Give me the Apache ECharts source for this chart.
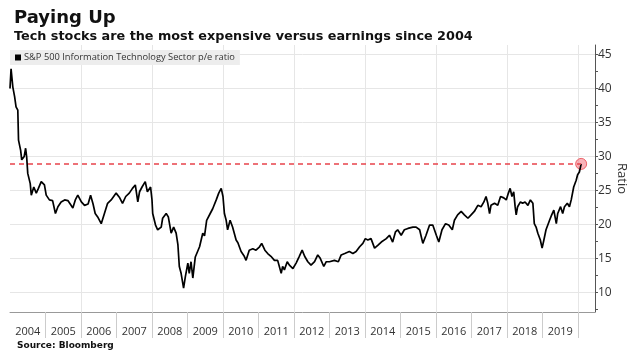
<!DOCTYPE html>
<html><head><meta charset="utf-8">
<script src="https://cdn.jsdelivr.net/npm/echarts@6/dist/echarts.min.js"></script>
<style>html,body{margin:0;padding:0;background:#fff}#c{width:641px;height:361px}</style>
</head><body><div id="c"></div>
<script>
const years = [
2004.00,2004.03,2004.08,2004.13,2004.17,2004.22,2004.24,2004.30,2004.33,2004.40,2004.44,2004.47,2004.50,2004.57,2004.60,2004.67,2004.74,2004.80,2004.88,2004.97,
2005.02,2005.11,2005.20,2005.28,2005.35,2005.44,2005.54,2005.63,2005.72,2005.77,2005.84,2005.91,
2006.01,2006.10,2006.20,2006.27,2006.34,2006.40,2006.47,2006.57,2006.66,2006.75,2006.85,2006.99,
2007.08,2007.17,2007.26,2007.36,2007.45,2007.53,2007.60,2007.65,2007.72,2007.81,2007.87,2007.92,2007.96,
2008.00,2008.02,2008.10,2008.16,2008.26,2008.30,2008.40,2008.46,2008.54,2008.61,2008.68,2008.73,2008.77,2008.82,2008.89,2008.94,
2009.01,2009.05,2009.10,2009.15,2009.22,2009.34,2009.43,2009.48,2009.54,2009.64,2009.71,2009.81,2009.88,2009.95,
2010.00,2010.04,2010.09,2010.13,2010.20,2010.27,2010.37,2010.42,2010.51,2010.60,2010.65,2010.74,2010.84,2010.93,
2011.03,2011.09,2011.18,2011.26,2011.35,2011.45,2011.54,2011.64,2011.68,2011.73,2011.81,2011.87,2011.97,
2012.06,2012.15,2012.23,2012.30,2012.39,2012.48,2012.58,2012.67,2012.74,2012.84,2012.91,
2013.00,2013.14,2013.25,2013.33,2013.43,2013.56,2013.66,2013.75,2013.85,2013.94,
2014.01,2014.08,2014.17,2014.27,2014.36,2014.46,2014.60,2014.69,2014.78,2014.86,2014.92,
2015.02,2015.11,2015.21,2015.35,2015.44,2015.54,2015.63,2015.72,2015.82,2015.91,
2016.01,2016.08,2016.17,2016.27,2016.36,2016.46,2016.52,2016.61,2016.71,2016.80,2016.90,2016.99,
2017.08,2017.18,2017.27,2017.35,2017.41,2017.46,2017.51,2017.55,2017.65,2017.74,2017.82,2017.91,2017.98,
2018.04,2018.09,2018.14,2018.19,2018.23,2018.26,2018.30,2018.38,2018.44,2018.51,2018.59,2018.66,2018.73,2018.77,2018.82,2018.87,2018.94,2018.99,
2019.04,2019.10,2019.20,2019.26,2019.32,2019.39,2019.43,2019.51,2019.57,2019.62,2019.70,2019.76,2019.81,2019.88,2019.95,2019.99,
2020.04,2020.09
];
const peRatio = [
40.0,42.9,40.2,38.8,37.3,36.8,32.4,30.9,29.5,30.0,31.2,29.9,27.5,26.0,24.3,25.5,24.6,25.3,26.3,25.8,
24.3,23.6,23.5,21.6,22.6,23.3,23.6,23.5,22.8,22.4,23.6,24.3,
23.3,22.8,23.0,24.3,23.0,21.6,21.1,20.1,21.6,23.1,23.6,24.6,
24.0,23.1,24.1,24.6,25.3,25.8,23.3,24.8,25.5,26.3,24.8,25.0,25.5,
23.6,21.6,19.9,19.2,19.6,20.9,21.6,21.1,18.7,19.6,18.7,17.0,13.8,12.8,10.6,12.3,
14.3,12.8,14.5,12.1,15.2,16.7,18.7,18.3,20.6,21.6,22.3,23.6,24.6,25.3,
24.1,21.6,20.6,19.2,20.6,19.6,17.7,17.3,16.0,15.3,14.7,16.2,16.4,16.2,
16.7,17.2,16.2,15.7,15.3,14.7,14.7,12.8,13.8,13.3,14.5,14.0,13.5,
14.3,15.3,16.2,15.3,14.5,14.0,14.5,15.5,15.0,13.8,14.5,
14.5,14.7,14.5,15.5,15.7,16.0,15.7,16.0,16.7,17.2,
17.9,17.7,17.9,16.5,16.9,17.4,17.9,18.4,17.4,18.9,19.2,
18.4,19.2,19.4,19.6,19.6,19.2,17.2,18.4,19.9,19.9,
18.4,17.4,19.2,20.1,19.9,19.2,20.6,21.4,21.9,21.4,20.9,21.4,
21.9,22.8,22.6,23.3,24.1,23.1,21.6,22.8,23.1,22.8,24.1,23.9,23.6,
24.6,25.3,24.1,24.8,22.6,21.4,22.6,23.3,23.1,23.3,22.8,23.6,23.1,20.1,19.6,18.7,17.7,16.5,
17.7,19.2,20.6,21.4,22.1,20.1,21.6,22.6,21.6,22.6,23.1,22.6,23.6,25.5,26.5,27.3,
27.7,28.9
];
const yLabelValues = [10, 15, 20, 25, 30, 35, 40, 45];
const yTickValues = [7.5, 10, 12.5, 15, 17.5, 20, 22.5, 25, 27.5, 30, 32.5, 35, 37.5, 40, 42.5, 45];
const xYearLabels = [2004, 2005, 2006, 2007, 2008, 2009, 2010, 2011, 2012, 2013, 2014, 2015, 2016, 2017, 2018, 2019];
const xYearBoundaries = [2005, 2006, 2007, 2008, 2009, 2010, 2011, 2012, 2013, 2014, 2015, 2016, 2017, 2018, 2019, 2020];
const xGridYears = [2006, 2008, 2010, 2012, 2014, 2016, 2018, 2020];
const seriesName = 'S&P 500 Information Technology Sector p/e ratio';

const X_MIN = 2004, X_MAX = 2020.48, Y_MIN = 7.1, Y_MAX = 46.4;
const n = years.length;
const lineData = years.map((y, i) => [y, peRatio[i]]);
const lastPoint = [years[n - 1], peRatio[n - 1]];

const chart = echarts.init(document.getElementById('c'), null, {renderer: 'canvas'});
chart.setOption({
  animation: false,
  backgroundColor: '#fff',
  title: [
    {text: 'Paying Up', left: 9, top: 4, textStyle: {fontFamily: 'DejaVu Sans', fontWeight: 'bold', fontSize: 18, color: '#111'}},
    {text: 'Tech stocks are the most expensive versus earnings since 2004', left: 9, top: 25, textStyle: {fontFamily: 'DejaVu Sans', fontWeight: 'bold', fontSize: 12.8, color: '#111'}},
    {text: 'Source: Bloomberg', left: 12, top: 336, textStyle: {fontFamily: 'DejaVu Sans', fontWeight: 'bold', fontSize: 9, color: '#111'}}
  ],
  legend: {
    data: [seriesName], left: 10, top: 50, icon: 'rect', itemWidth: 6, itemHeight: 6, itemGap: 4,
    backgroundColor: '#ededed', padding: [3, 5, 3, 5],
    textStyle: {fontFamily: 'Open Sans', fontSize: 9.3, color: '#333', padding: [0, 0, 0, -2]}
  },
  grid: {left: 10, right: 46, top: 45, bottom: 49, containLabel: false, outerBoundsMode: 'none'},
  xAxis: [
    {type: 'value', position: 'bottom', min: X_MIN, max: X_MAX,
     axisLine: {show: true, lineStyle: {color: '#999', width: 1}},
     axisTick: {show: true, customValues: xYearBoundaries, length: 26, lineStyle: {color: '#ccc'}},
     axisLabel: {show: true, customValues: xYearLabels.map(y => y + 0.5), formatter: v => String(Math.floor(v)),
                 margin: 14, fontFamily: 'Open Sans', fontSize: 11, color: '#333'},
     splitLine: {show: false}},
    {type: 'value', position: 'top', min: X_MIN, max: X_MAX,
     axisLine: {show: false}, axisLabel: {show: false},
     axisTick: {show: false, customValues: xGridYears},
     splitLine: {show: true, lineStyle: {color: '#e6e6e6', width: 1}}}
  ],
  yAxis: [
    {type: 'value', position: 'right', min: Y_MIN, max: Y_MAX,
     name: 'Ratio', nameLocation: 'middle', nameRotate: -90, nameGap: 20, nameMoveOverlap: false,
     nameTextStyle: {fontFamily: 'Open Sans', fontSize: 13, color: '#333'},
     axisLine: {show: true, lineStyle: {color: '#555', width: 1}},
     axisTick: {show: true, customValues: yTickValues, length: 3, lineStyle: {color: '#555'}},
     axisLabel: {show: true, customValues: yLabelValues, margin: 3, fontFamily: 'Open Sans', fontSize: 12, color: '#333'},
     splitLine: {show: false}},
    {type: 'value', position: 'left', min: Y_MIN, max: Y_MAX,
     axisLine: {show: false}, axisLabel: {show: false},
     axisTick: {show: false, customValues: yLabelValues},
     splitLine: {show: true, lineStyle: {color: '#e6e6e6', width: 1}}}
  ],
  series: [
    {name: seriesName, type: 'line', xAxisIndex: 0, yAxisIndex: 0, data: lineData,
     showSymbol: false, symbol: 'none', itemStyle: {color: '#000'},
     lineStyle: {color: '#000', width: 1.7}, silent: true,
     markLine: {silent: true, symbol: 'none', label: {show: false},
       lineStyle: {color: '#e8434b', width: 1.5, type: [5, 4]},
       data: [[{coord: [X_MIN, lastPoint[1]]}, {coord: [lastPoint[0], lastPoint[1]]}]]}},
    {type: 'scatter', xAxisIndex: 0, yAxisIndex: 0, data: [lastPoint], symbolSize: 11, silent: true,
     itemStyle: {color: 'rgba(245,120,130,0.7)', borderColor: '#e8434b', borderWidth: 1}}
  ]
});
</script></body></html>
